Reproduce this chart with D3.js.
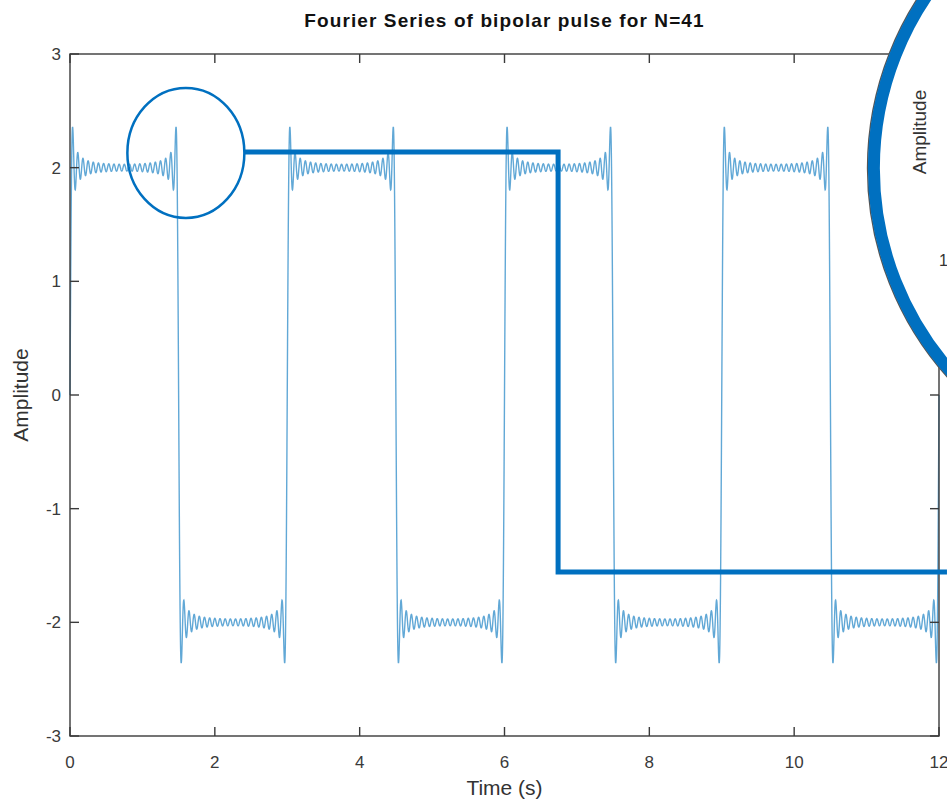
<!DOCTYPE html>
<html>
<head>
<meta charset="utf-8">
<script src="https://cdn.jsdelivr.net/npm/d3@7"></script>
<style>
  body { margin: 0; background: #fff; }
  svg { display: block; font-family: "Liberation Sans", Arial, sans-serif; }
</style>
</head>
<body>
<svg id="chart" width="947" height="802"></svg>
<script>
// One period of the bipolar pulse
const pulseEdges = [0, 1.5, 3];      // segment boundaries (s)
const pulseLevels = [2, -2];         // level of each segment
const harmonicCount = 41;            // N in the title
const timeSpan = [0, 12];

// Axis ticks
const xTicks = [0, 2, 4, 6, 8, 10, 12];
const yTicks = [-3, -2, -1, 0, 1, 2, 3];

// Annotation overlay, in data units
const zoomSpot = { t: 1.6, v: 2.13, rx: 58.5, ry: 65 };
const connector = [[2.41, 2.138], [6.74, 2.138], [6.74, -1.557], [12.11, -1.557]];
const lens = { t: 15.34, v: 1.995, r: 307 };

const svg = d3.select("#chart");
const margin = { left: 70, right: 8, top: 54, bottom: 66 };
const W = 947, H = 802;

const x = d3.scaleLinear().domain(timeSpan).range([margin.left, W - margin.right]);
const y = d3.scaleLinear().domain([-3, 3]).range([H - margin.bottom, margin.top]);

// Fourier coefficients of the piecewise-constant pulse
const T = pulseEdges[pulseEdges.length - 1] - pulseEdges[0];
const w = 2 * Math.PI / T;
let a0 = 0;
pulseLevels.forEach((lv, i) => { a0 += lv * (pulseEdges[i + 1] - pulseEdges[i]) / T; });
const coeffs = d3.range(1, harmonicCount + 1).map(k => {
  let a = 0, b = 0;
  pulseLevels.forEach((lv, i) => {
    const s = pulseEdges[i], e = pulseEdges[i + 1];
    a += lv * (Math.sin(k * w * e) - Math.sin(k * w * s)) / (k * w);
    b += lv * (Math.cos(k * w * s) - Math.cos(k * w * e)) / (k * w);
  });
  return { k, a: 2 * a / T, b: 2 * b / T };
});

const samples = d3.range(0, 6001).map(i => {
  const t = timeSpan[0] + (timeSpan[1] - timeSpan[0]) * i / 6000;
  let v = a0;
  coeffs.forEach(c => { v += c.a * Math.cos(c.k * w * t) + c.b * Math.sin(c.k * w * t); });
  return [t, v];
});

// Title
svg.append("text")
  .attr("x", (x.range()[0] + x.range()[1]) / 2).attr("y", 27)
  .attr("text-anchor", "middle")
  .attr("font-size", 19).attr("font-weight", "bold").attr("fill", "#111")
  .attr("letter-spacing", 1.1)
  .text("Fourier Series of bipolar pulse for N=" + harmonicCount);

// Curve
svg.append("path")
  .datum(samples)
  .attr("fill", "none")
  .attr("stroke", "#0072BD")
  .attr("stroke-opacity", 0.62)
  .attr("stroke-width", 1.4)
  .attr("d", d3.line().x(d => x(d[0])).y(d => y(d[1])));

// Box with inward ticks on all sides
const axisColor = "#3a3a3a";
const tickLen = 9;
const g = svg.append("g").attr("stroke", axisColor).attr("stroke-width", 1.4).attr("fill", "none");
g.append("rect")
  .attr("x", x.range()[0]).attr("y", y.range()[1])
  .attr("width", x.range()[1] - x.range()[0]).attr("height", y.range()[0] - y.range()[1]);
xTicks.forEach(t => {
  g.append("line").attr("x1", x(t)).attr("x2", x(t)).attr("y1", y.range()[0]).attr("y2", y.range()[0] - tickLen);
  g.append("line").attr("x1", x(t)).attr("x2", x(t)).attr("y1", y.range()[1]).attr("y2", y.range()[1] + tickLen);
});
yTicks.forEach(v => {
  g.append("line").attr("y1", y(v)).attr("y2", y(v)).attr("x1", x.range()[0]).attr("x2", x.range()[0] + tickLen);
  g.append("line").attr("y1", y(v)).attr("y2", y(v)).attr("x1", x.range()[1]).attr("x2", x.range()[1] - tickLen);
});

const labels = svg.append("g").attr("font-size", 17).attr("fill", "#3a3a3a");
xTicks.forEach(t => {
  labels.append("text").attr("x", x(t)).attr("y", y.range()[0] + 32)
    .attr("text-anchor", "middle").text(t);
});
yTicks.forEach(v => {
  labels.append("text").attr("x", x.range()[0] - 9).attr("y", y(v) + 6)
    .attr("text-anchor", "end").text(v);
});

svg.append("text")
  .attr("x", (x.range()[0] + x.range()[1]) / 2).attr("y", 795)
  .attr("text-anchor", "middle").attr("font-size", 21).attr("fill", "#333")
  .text("Time (s)");
svg.append("text")
  .attr("transform", `translate(28,${y(0)}) rotate(-90)`)
  .attr("text-anchor", "middle").attr("font-size", 21).attr("fill", "#333")
  .text("Amplitude");

// Magnifier annotation
const blue = "#0070C0";
svg.append("ellipse")
  .attr("cx", x(zoomSpot.t)).attr("cy", y(zoomSpot.v))
  .attr("rx", zoomSpot.rx).attr("ry", zoomSpot.ry)
  .attr("fill", "none").attr("stroke", blue).attr("stroke-width", 2.5);

svg.append("path")
  .attr("d", d3.line()(connector.map(p => [x(p[0]), y(p[1])])))
  .attr("fill", "none").attr("stroke", blue).attr("stroke-width", 5)
  .attr("stroke-linejoin", "miter");

const lx = x(lens.t), ly = y(lens.v);
svg.append("circle")
  .attr("cx", lx).attr("cy", ly).attr("r", lens.r + 6.3)
  .attr("fill", "#fff").attr("stroke", "#555").attr("stroke-width", 1.5);
svg.append("circle")
  .attr("cx", lx).attr("cy", ly).attr("r", lens.r)
  .attr("fill", "#fff").attr("stroke", blue).attr("stroke-width", 12);

svg.append("text")
  .attr("transform", "translate(926,132) rotate(-90)")
  .attr("text-anchor", "middle").attr("font-size", 19).attr("fill", "#333")
  .text("Amplitude");
svg.append("text")
  .attr("x", 939).attr("y", 266)
  .attr("font-size", 16).attr("fill", "#333")
  .text("1");
</script>
</body>
</html>
